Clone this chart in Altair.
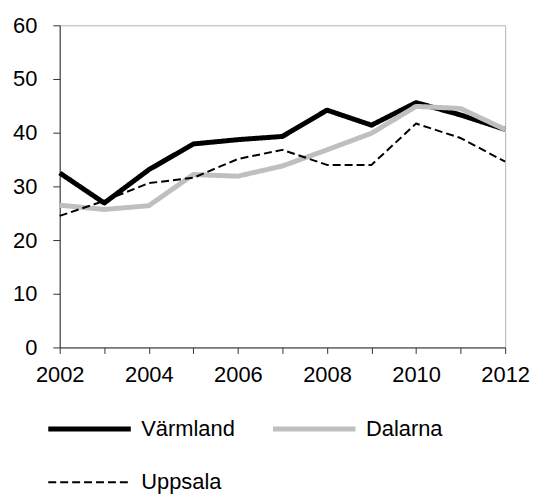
import altair as alt
import pandas as pd

years = list(range(2002, 2013))
series_names = ["Värmland", "Dalarna", "Uppsala"]
varmland = [32.5, 26.9, 33.1, 37.9, 38.7, 39.3, 44.2, 41.4, 45.6, 43.3, 40.6]
dalarna = [26.5, 25.7, 26.4, 32.2, 31.9, 33.8, 36.8, 39.9, 44.9, 44.5, 40.6]
uppsala = [24.5, 27.3, 30.6, 31.6, 35.1, 36.8, 34.0, 34.0, 41.7, 39.0, 34.6]

rows = []
for name, vals in zip(series_names, [varmland, dalarna, uppsala]):
    for y, v in zip(years, vals):
        rows.append({"year": y, "value": v, "series": name})
df = pd.DataFrame(rows)

FONT = "Liberation Sans"

color = alt.Color(
    "series:N",
    scale=alt.Scale(domain=series_names, range=["#000000", "#bfbfbf", "#000000"]),
    sort=series_names,
    legend=alt.Legend(
        title=None,
        orient="none",
        direction="horizontal",
        legendX=-14,
        legendY=362,
        columns=2,
        columnPadding=27,
        rowPadding=-39,
        symbolType="stroke",
        symbolSize=6889,
        labelFontSize=22,
        labelFont=FONT,
        labelColor="#000000",
        labelOffset=8,
        padding=0,
    ),
)
dash = alt.StrokeDash(
    "series:N",
    sort=series_names,
    scale=alt.Scale(domain=series_names, range=[[1, 0], [1, 0], [8, 4]]),
    legend=alt.Legend(title=None),
)
width = alt.StrokeWidth(
    "series:N",
    sort=series_names,
    scale=alt.Scale(type="ordinal", domain=series_names, range=[5, 5, 2]),
    legend=alt.Legend(title=None),
)

x = alt.X(
    "year:Q",
    scale=alt.Scale(domain=[2002, 2012], nice=False, zero=False),
    axis=alt.Axis(
        title=None,
        values=years,
        labelExpr="datum.value % 2 == 0 ? datum.value + '' : ''",
        grid=False,
        tickSize=6,
        labelPadding=11,
        labelFlush=False,
        labelFontSize=22,
        labelFont=FONT,
        labelColor="#000000",
        domainColor="#333333",
        tickColor="#333333",
    ),
)
y = alt.Y(
    "value:Q",
    scale=alt.Scale(domain=[0, 60], nice=False),
    axis=alt.Axis(
        title=None,
        values=[0, 10, 20, 30, 40, 50, 60],
        grid=False,
        tickSize=7,
        labelPadding=16,
        labelFontSize=22,
        labelFont=FONT,
        labelColor="#000000",
        domainColor="#333333",
        tickColor="#333333",
    ),
)

base = alt.Chart(df)
layers = []
for name in series_names:
    layers.append(
        base.transform_filter(alt.datum.series == name)
        .mark_line(strokeJoin="round", strokeCap="butt")
        .encode(x=x, y=y, color=color, strokeDash=dash, strokeWidth=width)
    )

chart = (
    alt.layer(*layers)
    .properties(width=448, height=324, padding={"left": 4, "top": 5, "right": 5, "bottom": 0})
    .configure_view(stroke="#b3b3b3", strokeWidth=1)
)

chart.save("out.html", embed_options={"renderer": "svg", "actions": False})
